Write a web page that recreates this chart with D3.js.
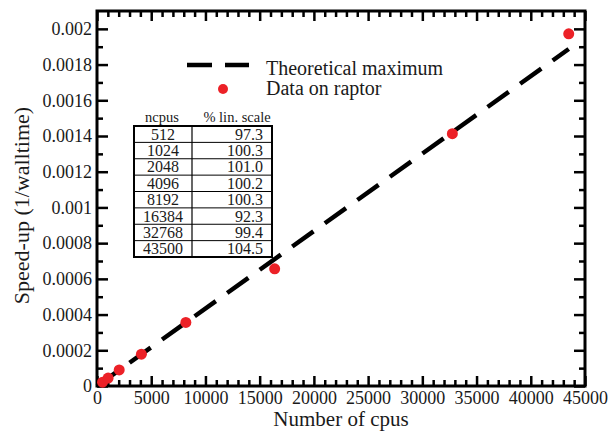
<!DOCTYPE html>
<html><head><meta charset="utf-8">
<script src="https://cdn.jsdelivr.net/npm/d3@7"></script>
<style>body{margin:0;background:#fff}svg{display:block}svg text{font-family:'Liberation Serif','Times New Roman',serif}</style>
</head><body>
<script>
const ncpus = [512, 1024, 2048, 4096, 8192, 16384, 32768, 43500];
const speedup = [0.0000216, 0.0000446, 0.0000897, 0.000178, 0.000356, 0.000656, 0.001413, 0.001972];
const linScale = ["97.3", "100.3", "101.0", "100.2", "100.3", "92.3", "99.4", "104.5"];
const theoryX = [0, 43500];
const theoryY = [0, 0.001887];
const xTicks = [0, 5000, 10000, 15000, 20000, 25000, 30000, 35000, 40000, 45000];
const yTicks = [0, 0.0002, 0.0004, 0.0006, 0.0008, 0.001, 0.0012, 0.0014, 0.0016, 0.0018, 0.002];
const yTickLabels = ["0", "0.0002", "0.0004", "0.0006", "0.0008", "0.001", "0.0012", "0.0014", "0.0016", "0.0018", "0.002"];

const W = 610, H = 433;
const L = 97, R = 585, T = 11, B = 386;
const svg = d3.select("body").append("svg").attr("width", W).attr("height", H);
const font = "'Liberation Serif', 'Times New Roman', serif";
const ink = "#1a1a1a";

const x = d3.scaleLinear().domain([0, 45000]).range([L, R]);
const y = d3.scaleLinear().domain([0, 0.0021]).range([B, T]);

const xMinor = d3.range(0, 45001, 1000).filter(v => v % 5000 !== 0);
const yMinor = d3.range(1, 21, 2).map(v => v * 0.0001);

const g = svg.append("g");
// bottom axis
g.append("g").attr("transform", `translate(0,${B})`)
  .call(d3.axisBottom(x).tickValues(xTicks).tickFormat(d3.format("d")).tickSize(-10).tickPadding(5));
g.append("g").attr("transform", `translate(0,${B})`).call(d3.axisBottom(x).tickValues(xMinor).tickSize(-6).tickFormat(""));
// top axis
g.append("g").attr("transform", `translate(0,${T})`).call(d3.axisTop(x).tickValues(xTicks).tickSize(-10).tickFormat(""));
g.append("g").attr("transform", `translate(0,${T})`).call(d3.axisTop(x).tickValues(xMinor).tickSize(-6).tickFormat(""));
// left axis
g.append("g").attr("transform", `translate(${L},0)`)
  .call(d3.axisLeft(y).tickValues(yTicks).tickFormat((d, i) => yTickLabels[i]).tickSize(-11).tickPadding(5));
g.append("g").attr("transform", `translate(${L},0)`).call(d3.axisLeft(y).tickValues(yMinor).tickSize(-6).tickFormat(""));
// right axis
g.append("g").attr("transform", `translate(${R},0)`).call(d3.axisRight(y).tickValues(yTicks).tickSize(-11).tickFormat(""));
g.append("g").attr("transform", `translate(${R},0)`).call(d3.axisRight(y).tickValues(yMinor).tickSize(-6).tickFormat(""));

g.selectAll(".domain").remove();
g.selectAll("g").attr("font-family", null);
g.selectAll(".tick line").attr("stroke", "#000").attr("stroke-width", 2.5);
g.selectAll(".tick text").style("font-family", font).attr("font-size", 18).attr("fill", ink);

// frame
svg.append("rect").attr("x", L).attr("y", T).attr("width", R - L).attr("height", B - T)
  .attr("fill", "none").attr("stroke", "#000").attr("stroke-width", 3);

// theoretical line
const line = d3.line().x(d => x(d[0])).y(d => y(d[1]));
svg.append("path").datum(theoryX.map((v, i) => [v, theoryY[i]]))
  .attr("d", line).attr("fill", "none").attr("stroke", "#000").attr("stroke-width", 4.5)
  .attr("stroke-dasharray", "26,14").attr("stroke-linecap", "butt");

// points
svg.append("g").selectAll("circle").data(ncpus).join("circle")
  .attr("cx", d => x(d)).attr("cy", (d, i) => y(speedup[i])).attr("r", 5.5).attr("fill", "#ec2127");

// axis titles
svg.append("text").attr("x", (L + R) / 2).attr("y", 426).attr("text-anchor", "middle")
  .attr("font-size", 21).attr("fill", ink).text("Number of cpus");
svg.append("text").attr("transform", `translate(29,${(T + B) / 2 + 7}) rotate(-90)`).attr("text-anchor", "middle")
  .attr("font-size", 22).attr("fill", ink).text("Speed-up (1/walltime)");

// legend
svg.append("line").attr("x1", 187).attr("x2", 249).attr("y1", 65).attr("y2", 65)
  .attr("stroke", "#000").attr("stroke-width", 4.5).attr("stroke-dasharray", "25,13");
svg.append("text").attr("x", 266).attr("y", 75).attr("font-size", 20).attr("fill", ink).text("Theoretical maximum");
svg.append("circle").attr("cx", 223).attr("cy", 89).attr("r", 5).attr("fill", "#ec2127");
svg.append("text").attr("x", 266).attr("y", 95).attr("font-size", 20).attr("fill", ink).text("Data on raptor");

// table
const tx0 = 134, tx1 = 272, tcol = 192, ty0 = 126, ty1 = 257;
const rowH = (ty1 - ty0) / ncpus.length;
const tg = svg.append("g");
tg.append("text").attr("x", 162).attr("y", 122).attr("text-anchor", "middle").attr("font-size", 14.5).attr("fill", ink).text("ncpus");
tg.append("text").attr("x", 237).attr("y", 122).attr("text-anchor", "middle").attr("font-size", 14.5).attr("fill", ink).text("% lin. scale");
ncpus.forEach((n, i) => {
  if (i > 0) tg.append("line").attr("x1", tx0).attr("x2", tx1).attr("y1", ty0 + i * rowH).attr("y2", ty0 + i * rowH).attr("stroke", "#000").attr("stroke-width", 1);
  tg.append("text").attr("x", 163).attr("y", ty0 + (i + 0.5) * rowH + 5.5).attr("text-anchor", "middle").attr("font-size", 16).attr("fill", ink).text(n);
  tg.append("text").attr("x", 263).attr("y", ty0 + (i + 0.5) * rowH + 5.5).attr("text-anchor", "end").attr("font-size", 16).attr("fill", ink).text(linScale[i]);
});
tg.append("line").attr("x1", tcol).attr("x2", tcol).attr("y1", ty0).attr("y2", ty1).attr("stroke", "#000").attr("stroke-width", 1.2);
tg.append("rect").attr("x", tx0).attr("y", ty0).attr("width", tx1 - tx0).attr("height", ty1 - ty0).attr("fill", "none").attr("stroke", "#000").attr("stroke-width", 2);
</script>
</body></html>
